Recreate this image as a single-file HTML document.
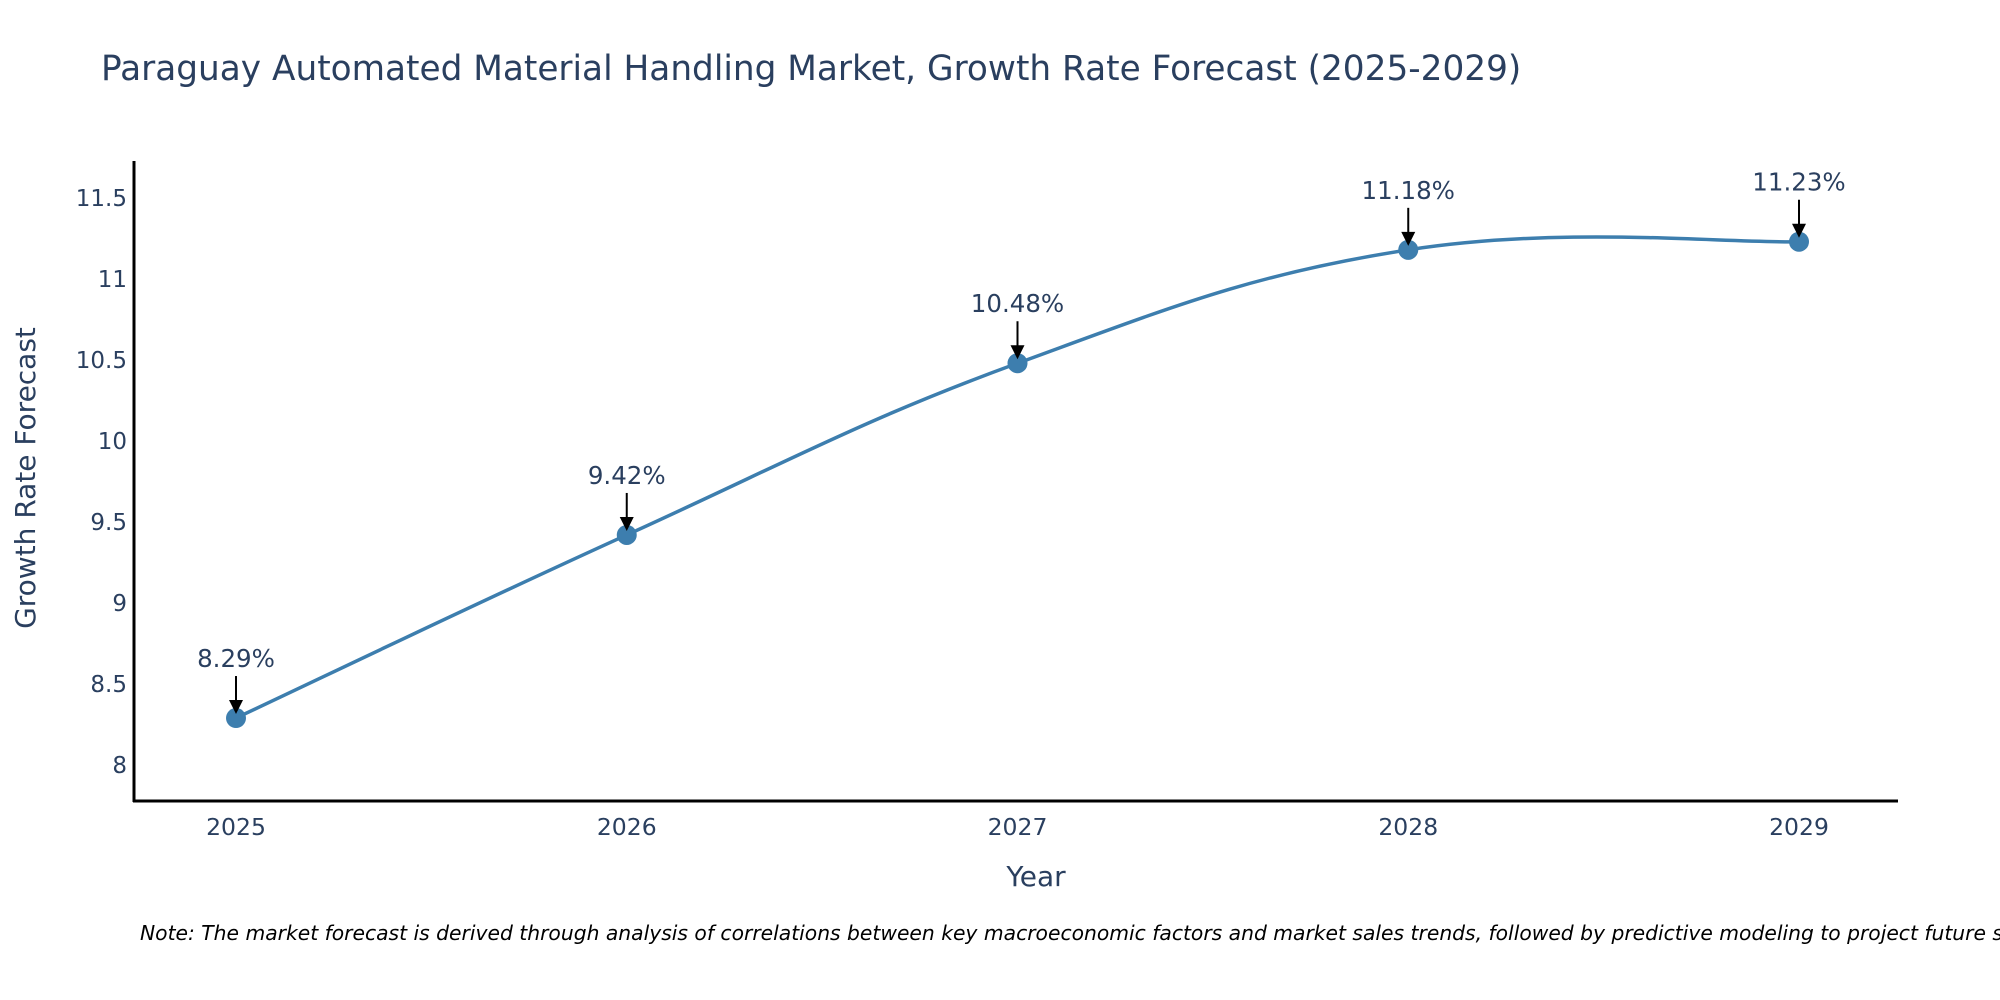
<!DOCTYPE html>
<html><head><meta charset="utf-8"><style>
body{margin:0;background:#fff;overflow:hidden;}
svg{display:block;font-family:"DejaVu Sans","Liberation Sans",sans-serif;}
</style></head><body>
<svg id="chart" width="2000" height="1000" viewBox="0 0 2000 1000">
<rect width="2000" height="1000" fill="#fff"/>
<text x="101" y="80" font-size="34.3" fill="#2a3f5f">Paraguay Automated Material Handling Market, Growth Rate Forecast (2025-2029)</text>
<g id="yticks"></g>
<g id="xticks"></g>
<line x1="134" y1="161" x2="134" y2="802" stroke="#000" stroke-width="3"/>
<line x1="133" y1="801" x2="1898" y2="801" stroke="#000" stroke-width="3"/>
<path id="line" fill="none" stroke="#3d7eae" stroke-width="3.5"/>
<g id="points"></g>
<g id="annos"></g>
<text x="1036" y="886" font-size="28" fill="#2a3f5f" text-anchor="middle">Year</text>
<text transform="translate(35,478) rotate(-90)" font-size="28" fill="#2a3f5f" text-anchor="middle">Growth Rate Forecast</text>
<text x="140" y="940" font-size="20.3" font-style="italic" fill="#000">Note: The market forecast is derived through analysis of correlations between key macroeconomic factors and market sales trends, followed by predictive modeling to project future sales.</text>
</svg>
<script>
const years = [2025, 2026, 2027, 2028, 2029];
const values = [8.29, 9.42, 10.48, 11.18, 11.23];
const yTicks = [8, 8.5, 9, 9.5, 10, 10.5, 11, 11.5];
const NS = "http://www.w3.org/2000/svg";
function xs(y){return 236 + (y - 2025) * 390.75;}
function ys(v){return 765 - (v - 8) * 162;}
function mk(tag, attrs, parent){const e=document.createElementNS(NS,tag);for(const k in attrs)e.setAttribute(k,attrs[k]);parent.appendChild(e);return e;}
const yg=document.getElementById('yticks');
yTicks.forEach(t=>{
  const e=mk('text',{x:127,y:ys(t)+8,'font-size':23,fill:'#2a3f5f','text-anchor':'end'},yg);
  
  
  e.textContent=String(t);
});
const xg=document.getElementById('xticks');
years.forEach(y=>{
  const e=mk('text',{x:xs(y),y:835,'font-size':23.5,fill:'#2a3f5f','text-anchor':'middle'},xg);
  
  
  e.textContent=String(y);
});
const P=years.map((y,i)=>[xs(y),ys(values[i])]);
let d='M'+P[0][0]+','+P[0][1];
for(let i=0;i<P.length-1;i++){
  const p0=P[i-1]||P[i],p1=P[i],p2=P[i+1],p3=P[i+2]||P[i+1];
  const t=1/5;
  const c1=[p1[0]+(p2[0]-p0[0])*t,p1[1]+(p2[1]-p0[1])*t];
  const c2=[p2[0]-(p3[0]-p1[0])*t,p2[1]-(p3[1]-p1[1])*t];
  d+=' C'+c1+' '+c2+' '+p2;
}
document.getElementById('line').setAttribute('d',d);
const pg=document.getElementById('points'),ag=document.getElementById('annos');
P.forEach((p,i)=>{
  const c=mk('circle',{cx:p[0],cy:p[1],r:10,fill:'#3d7eae'},pg);
  
  
  const l=mk('line',{x1:p[0],y1:p[1]-42,x2:p[0],y2:p[1]-16,stroke:'#000','stroke-width':2},ag);
  
  
  const h=mk('polygon',{points:`${p[0]-7},${p[1]-18} ${p[0]+7},${p[1]-18} ${p[0]},${p[1]-4}`,fill:'#000'},ag);
  
  
  const t=mk('text',{x:p[0],y:p[1]-51,'font-size':24.5,fill:'#2a3f5f','text-anchor':'middle'},ag);
  
  
  t.textContent=values[i].toFixed(2)+'%';
});
</script>
</body></html>
